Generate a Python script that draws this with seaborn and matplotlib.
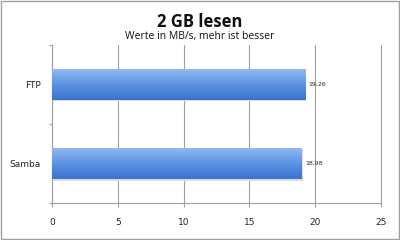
import numpy as np
import pandas as pd
import matplotlib
matplotlib.use("Agg")
import matplotlib.pyplot as plt
import seaborn as sns
from matplotlib.colors import LinearSegmentedColormap
from matplotlib.patches import Rectangle

categories = ["FTP", "Samba"]
values = [19.26, 18.98]
value_labels = ["19,26", "18,98"]
x_ticks = [0, 5, 10, 15, 20, 25]

sns.set_theme(style="white")
plt.rcParams['font.family'] = ['DejaVu Sans']

df = pd.DataFrame({"cat": categories, "val": values})

fig = plt.figure(figsize=(4, 2.4), dpi=100)
ax = fig.add_axes([0.13, 0.154, 0.8225, 0.6585])

sns.barplot(data=df, x="val", y="cat", orient="h", ax=ax, width=0.4,
            color="#4f86d8", edgecolor="none", saturation=1)

cmap = LinearSegmentedColormap.from_list("g", ["#96bbf4", "#5f93e2", "#3a73cc"])
grad = np.linspace(0, 1, 64).reshape(-1, 1)
for p in list(ax.patches):
    x0, y0 = p.get_x(), p.get_y()
    w, h = p.get_width(), p.get_height()
    sh = Rectangle((x0 + 0.06, y0 + 0.015), w, h, facecolor="#dcdcdc", edgecolor="none", zorder=1.5)
    ax.add_patch(sh)
    im = ax.imshow(grad, cmap=cmap, aspect="auto", extent=(x0, x0 + w, y0 + h, y0),
                   zorder=3, interpolation="bicubic")
    im.set_clip_path(p)
    p.set_zorder(2.5)

ax.set_xlim(0, 25)
ax.set_ylim(1.5, -0.5)
ax.set_xticks(x_ticks)
ax.set_xticklabels([str(t) for t in x_ticks], fontsize=6.5, color="#222222")
ax.set_yticks([0, 1])
ax.set_yticklabels(categories, fontsize=6.5, color="#222222")
ax.set_xlabel("")
ax.set_ylabel("")
ax.set_axisbelow(True)
ax.grid(axis="x", color="#a0a0a0", linewidth=0.8)
ax.grid(axis="y", visible=False)
for gl in ax.get_xgridlines():
    gl.set_clip_on(False)
for s in ["top", "right"]:
    ax.spines[s].set_visible(False)
for s in ["left", "bottom"]:
    ax.spines[s].set_color("#a0a0a0")
    ax.spines[s].set_linewidth(0.8)
ax.tick_params(axis="x", length=3, color="#a0a0a0", width=0.8, pad=8, bottom=True)
ax.tick_params(axis="y", length=0, pad=8)
ax.set_yticks([-0.5, 0.5, 1.5], minor=True)
ax.tick_params(axis="y", which="minor", length=2.5, color="#a0a0a0", width=0.8, left=True)

for i, (v, lab) in enumerate(zip(values, value_labels)):
    ax.text(v + 0.25, i, lab, fontsize=4.5, va="center", ha="left", color="#222222")

fig.text(0.5, 0.91, "2 GB lesen", ha="center", va="center", fontsize=12,
         fontweight="bold", family=["Open Sans", "DejaVu Sans"], color="#111111")
fig.text(0.5, 0.85, "Werte in MB/s, mehr ist besser", ha="center", va="center",
         fontsize=7.5, family=["Open Sans", "DejaVu Sans"], color="#111111")

fig.add_artist(Rectangle((0.002, 0.003), 0.995, 0.993, transform=fig.transFigure,
                         fill=False, edgecolor="#a0a0a0", linewidth=1))

fig.savefig("out.png", dpi=100)
